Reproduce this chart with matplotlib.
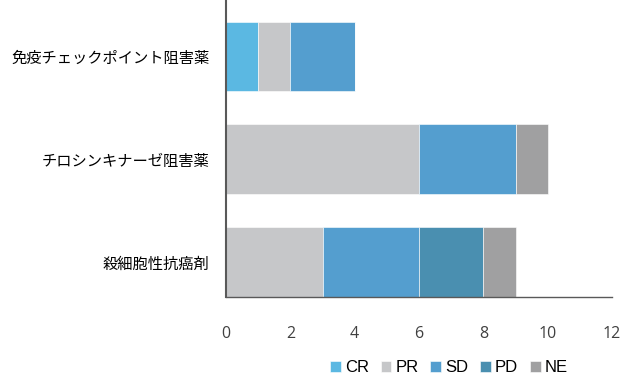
import matplotlib
matplotlib.use("Agg")
import matplotlib.pyplot as plt
import numpy as np

categories = ["免疫チェックポイント阻害薬", "チロシンキナーゼ阻害薬", "殺細胞性抗癌剤"]
series_names = ["CR", "PR", "SD", "PD", "NE"]
CR = [1, 0, 0]
PR = [1, 6, 3]
SD = [2, 3, 3]
PD = [0, 0, 2]
NE = [0, 1, 1]
xticks = [0, 2, 4, 6, 8, 10, 12]
colors = ["#5BB8E2", "#C6C7C9", "#549ECF", "#4A8FB0", "#A0A0A1"]

plt.rcParams['font.family'] = ['Noto Sans CJK JP', 'DejaVu Sans']

fig = plt.figure(figsize=(6.3, 3.78), dpi=100)
ax = fig.add_axes([226/630, 1 - 297/378, (612 - 226)/630, 297/378])

y = np.arange(len(categories))
left = np.zeros(len(categories))
for name, vals, c in zip(series_names, [CR, PR, SD, PD, NE], colors):
    vals = np.array(vals, dtype=float)
    ax.barh(y, vals, left=left, height=0.68, color=c, label=name,
            edgecolor="white", linewidth=0.4)
    left += vals

ax.set_ylim(2.34, -0.55)
ax.set_xlim(0, 12)
ax.set_xticks(xticks)
ax.set_xticklabels([str(t) for t in xticks], fontsize=11.5, color="#404040",
                   family=["Open Sans", "DejaVu Sans"])
ax.set_yticks(y)
ax.set_yticklabels(categories, fontsize=11, color="#000000")
ax.tick_params(axis="both", length=0)
ax.tick_params(axis="x", pad=21)
ax.tick_params(axis="y", pad=12)
for s in ["top", "right"]:
    ax.spines[s].set_visible(False)
ax.spines["left"].set_color("#595959")
ax.spines["left"].set_linewidth(1.5)
ax.spines["bottom"].set_color("#595959")
ax.spines["bottom"].set_linewidth(1.0)

handles, labels = ax.get_legend_handles_labels()
fig.legend(handles, labels, loc="center", bbox_to_anchor=(449/630, 1 - 368/378),
           ncol=5, frameon=False, handlelength=0.65, handleheight=0.65,
           handletextpad=0.25, columnspacing=0.7,
           prop={"family": ["Liberation Sans", "DejaVu Sans"], "size": 12})

fig.savefig("out.png", dpi=100)
